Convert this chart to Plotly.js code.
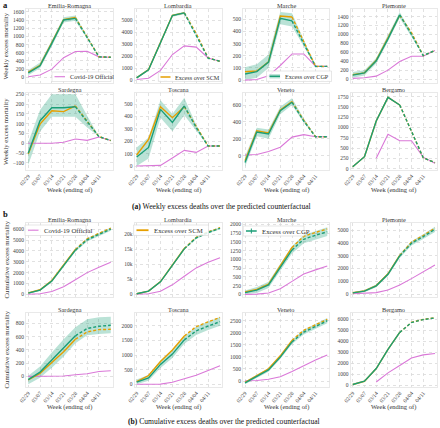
<!DOCTYPE html>
<html><head><meta charset="utf-8">
<script src="https://cdn.plot.ly/plotly-3.0.1.min.js"></script>
<style>html,body{margin:0;padding:0;background:#fff}#chart{width:440px;height:428px}</style>
</head><body><div id="chart"></div>
<script>
// ---------- DATA ----------
const weeks = ["02/29","03/07","03/14","03/21","03/28","04/04","04/11","04/18"];
const tickLabels = ["02/29","03/07","03/14","03/21","03/28","04/04","04/11"];

// Weekly excess mortality
const W_ER_OFF = [15, 55, 200, 480, 630, 635, 500, 490];
const W_ER_SCM = [130, 295, 850, 1410, 1460, 980, 500, 490];
const W_ER_CGP = [108, 280, 830, 1400, 1440, 960, 500, 490];
const W_ER_LO  = [50, 220, 760, 1340, 1380, 930, 500, 490];
const W_ER_HI  = [170, 360, 900, 1470, 1510, 1000, 500, 490];

const W_LO_OFF = [55, 150, 810, 2140, 2860, 2760, 1850, 1570];
const W_LO_SCM = [200, 880, 3150, 5420, 5630, 3900, 1850, 1570];
const W_LO_CGP = [190, 865, 3130, 5400, 5620, 3750, 1840, 1570];
const W_LO_LO  = [110, 780, 3040, 5310, 5520, 3680, 1840, 1570];
const W_LO_HI  = [270, 950, 3220, 5490, 5720, 3820, 1840, 1570];

const W_MA_OFF = [0, 5, 35, 120, 215, 215, 115, 113];
const W_MA_SCM = [68, 75, 150, 527, 519, 320, 113, 113];
const W_MA_CGP = [50, 70, 148, 508, 487, 300, 113, 113];
const W_MA_LO  = [0, 20, 100, 460, 440, 280, 113, 113];
const W_MA_HI  = [105, 130, 210, 560, 550, 330, 113, 113];

const W_PI_OFF = [15, 30, 65, 200, 395, 510, 510, 640];
const W_PI_SCM = [100, 140, 420, 920, 1430, 1040, 525, 640];
const W_PI_CGP = [88, 139, 409, 900, 1438, 1000, 525, 640];
const W_PI_LO  = [30, 80, 350, 840, 1370, 960, 525, 640];
const W_PI_HI  = [160, 200, 470, 970, 1500, 1040, 525, 640];

const W_SA_OFF = [0, 0, 0, 5, 22, 15, 32, 14];
const W_SA_SCM = [-55, 98, 166, 161, 190, 110, 34, 14];
const W_SA_CGP = [-51, 115, 181, 181, 186, 110, 34, 14];
const W_SA_LO  = [-110, 60, 135, 135, 135, 80, 34, 14];
const W_SA_HI  = [5, 170, 250, 250, 250, 140, 34, 14];

const W_TO_OFF = [0, 0, 5, 65, 126, 110, 161, 161];
const W_TO_SCM = [89, 215, 478, 390, 478, 320, 161, 161];
const W_TO_CGP = [73, 150, 457, 352, 484, 310, 161, 161];
const W_TO_LO  = [0, 60, 390, 280, 410, 290, 161, 161];
const W_TO_HI  = [150, 230, 530, 420, 550, 330, 161, 161];

const W_VE_OFF = [8, 15, 50, 100, 220, 250, 225, 225];
const W_VE_SCM = [-60, 295, 270, 540, 640, 420, 225, 225];
const W_VE_CGP = [-80, 280, 257, 533, 632, 410, 225, 225];
const W_VE_LO  = [-130, 230, 200, 490, 600, 390, 225, 225];
const W_VE_HI  = [-10, 330, 310, 580, 680, 440, 225, 225];

const W_BG_OFF = [null, null, 251, 835, 680, 680, 280, 130];
const W_BG_SCM = [45, 292, 1159, 1734, 1548, 920, 267, 146];
const W_BG_CGP = [49, 292, 1159, 1734, 1548, 900, 267, 146];

// Cumulative excess mortality
const C_ER_OFF = [0, 50, 250, 700, 1350, 2000, 2500, 2950];
const C_ER_SCM = [130, 420, 1270, 2680, 4140, 5120, 5620, 6110];
const C_ER_CGP = [108, 390, 1220, 2620, 4070, 5030, 5530, 6020];
const C_ER_LO  = [50, 310, 1120, 2500, 3930, 4880, 5380, 5870];
const C_ER_HI  = [170, 470, 1320, 2740, 4210, 5180, 5680, 6170];

const C_LO_OFF = [55, 200, 1000, 3150, 6000, 8800, 10650, 12200];
const C_LO_SCM = [200, 1080, 4230, 9650, 15280, 19000, 20800, 22200];
const C_LO_CGP = [190, 1055, 4150, 9550, 15170, 18800, 20600, 22000];
const C_LO_LO  = [90, 900, 3950, 9300, 14900, 18450, 20250, 21650];
const C_LO_HI  = [290, 1200, 4350, 9800, 15450, 19150, 20950, 22350];

const C_MA_OFF = [0, 5, 40, 160, 370, 580, 700, 810];
const C_MA_SCM = [68, 140, 290, 820, 1340, 1660, 1770, 1870];
const C_MA_CGP = [50, 120, 270, 780, 1270, 1575, 1690, 1790];
const C_MA_LO  = [0, 40, 180, 690, 1170, 1460, 1570, 1670];
const C_MA_HI  = [110, 210, 360, 880, 1380, 1700, 1810, 1920];

const C_PI_OFF = [15, 45, 110, 310, 700, 1200, 1720, 2265];
const C_PI_SCM = [100, 240, 660, 1580, 3010, 4050, 4570, 5150];
const C_PI_CGP = [88, 227, 636, 1536, 2974, 3960, 4480, 5050];
const C_PI_LO  = [30, 130, 520, 1400, 2820, 3790, 4290, 4850];
const C_PI_HI  = [150, 320, 750, 1670, 3130, 4130, 4670, 5250];

const C_SA_OFF = [0, 0, 0, 5, 25, 40, 72, 85];
const C_SA_SCM = [-55, 45, 210, 370, 560, 670, 705, 710];
const C_SA_CGP = [-51, 64, 245, 426, 612, 722, 756, 770];
const C_SA_LO  = [-120, -20, 130, 300, 500, 620, 640, 650];
const C_SA_HI  = [10, 150, 360, 560, 740, 860, 890, 900];

const C_TO_OFF = [0, 0, 5, 70, 195, 310, 470, 630];
const C_TO_SCM = [89, 300, 780, 1170, 1650, 1970, 2130, 2280];
const C_TO_CGP = [73, 220, 680, 1030, 1515, 1825, 1985, 2140];
const C_TO_LO  = [0, 120, 560, 900, 1380, 1680, 1850, 2000];
const C_TO_HI  = [160, 320, 820, 1180, 1650, 1960, 2140, 2300];

const C_VE_OFF = [8, 23, 73, 173, 393, 643, 868, 1080];
const C_VE_SCM = [-60, 235, 505, 1045, 1685, 2105, 2330, 2555];
const C_VE_CGP = [-80, 200, 457, 990, 1622, 2032, 2257, 2500];
const C_VE_LO  = [-140, 130, 380, 910, 1530, 1930, 2150, 2390];
const C_VE_HI  = [-20, 270, 530, 1070, 1710, 2130, 2370, 2610];

const C_BG_OFF = [null, null, 270, 1100, 1780, 2460, 2740, 2870];
const C_BG_SCM = [45, 337, 1496, 3230, 4778, 5700, 5965, 6110];
const C_BG_CGP = [49, 341, 1500, 3234, 4782, 5680, 5947, 6093];

const regionNames = ["Emilia-Romagna","Lombardia","Marche","Piemonte","Sardegna","Toscana","Veneto","Bergamo"];
const seriesNames = ["Covid-19 Official","Excess over SCM","Excess over CGP"];

// ---------- PANELS ----------
const panels = [
  {off:W_ER_OFF, scm:W_ER_SCM, cgp:W_ER_CGP, lo:W_ER_LO, hi:W_ER_HI, range:[-139,1669], dtick:200},
  {off:W_LO_OFF, scm:W_LO_SCM, cgp:W_LO_CGP, lo:W_LO_LO, hi:W_LO_HI, range:[-243,5950], dtick:1000},
  {off:W_MA_OFF, scm:W_MA_SCM, cgp:W_MA_CGP, lo:W_MA_LO, hi:W_MA_HI, range:[-24,585], dtick:100},
  {off:W_PI_OFF, scm:W_PI_SCM, cgp:W_PI_CGP, lo:W_PI_LO, hi:W_PI_HI, range:[-88,1570], dtick:200},
  {off:W_SA_OFF, scm:W_SA_SCM, cgp:W_SA_CGP, lo:W_SA_LO, hi:W_SA_HI, range:[-136,256], dtick:50},
  {off:W_TO_OFF, scm:W_TO_SCM, cgp:W_TO_CGP, lo:W_TO_LO, hi:W_TO_HI, range:[-32,589], dtick:100},
  {off:W_VE_OFF, scm:W_VE_SCM, cgp:W_VE_CGP, lo:W_VE_LO, hi:W_VE_HI, range:[-169,742], dtick:200},
  {off:W_BG_OFF, scm:W_BG_SCM, cgp:W_BG_CGP, lo:null, hi:null, range:[-32,1840], dtick:250},
  {off:C_ER_OFF, scm:C_ER_SCM, cgp:C_ER_CGP, lo:C_ER_LO, hi:C_ER_HI, range:[-250,6580], dtick:1000},
  {off:C_LO_OFF, scm:C_LO_SCM, cgp:C_LO_CGP, lo:C_LO_LO, hi:C_LO_HI, range:[-900,23770], dtick:5000},
  {off:C_MA_OFF, scm:C_MA_SCM, cgp:C_MA_CGP, lo:C_MA_LO, hi:C_MA_HI, range:[-76,2040], dtick:250},
  {off:C_PI_OFF, scm:C_PI_SCM, cgp:C_PI_CGP, lo:C_PI_LO, hi:C_PI_HI, range:[-234,5547], dtick:1000},
  {off:C_SA_OFF, scm:C_SA_SCM, cgp:C_SA_CGP, lo:C_SA_LO, hi:C_SA_HI, range:[-161,956], dtick:200},
  {off:C_TO_OFF, scm:C_TO_SCM, cgp:C_TO_CGP, lo:C_TO_LO, hi:C_TO_HI, range:[-92,2433], dtick:500},
  {off:C_VE_OFF, scm:C_VE_SCM, cgp:C_VE_CGP, lo:C_VE_LO, hi:C_VE_HI, range:[-249,2820], dtick:500},
  {off:C_BG_OFF, scm:C_BG_SCM, cgp:C_BG_CGP, lo:null, hi:null, range:[-182,6545], dtick:1000}
];

// ---------- LAYOUT GEOMETRY (pixels) ----------
const W = 440, H = 428;
const colPx = [[26,113],[134.4,222.3],[242.8,329.5],[350.5,437.2]];
const rowPx = [[9,83],[93,170],[223,297],[313,387]];
const px = x => x / W;
const py = y => 1 - y / H;

const FONT = "Liberation Serif, DejaVu Serif, serif";
const C_OFF = "#da78d8", C_SCM = "#e69f00", C_CGP = "#1b9e77", C_BAND = "rgba(27,158,119,0.30)";

const traces = [];
const layout = {
  width: W, height: H, margin: {l:0, r:0, t:0, b:0},
  paper_bgcolor: "white", plot_bgcolor: "white", showlegend: false,
  font: {family: FONT, size: 6, color: "#333"},
  annotations: [], shapes: []
};

panels.forEach((p, i) => {
  const k = i + 1;
  const xs = k === 1 ? "x" : "x" + k, ys = k === 1 ? "y" : "y" + k;
  const col = i % 4, row = Math.floor(i / 4);
  const bottom = (row === 1 || row === 3);
  const [x0, x1] = colPx[col], [yt, yb] = rowPx[row];
  layout[k === 1 ? "xaxis" : "xaxis" + k] = {
    domain: [px(x0), px(x1)], anchor: ys, type: "category", range: [-0.19, 7.19],
    tickvals: tickLabels, ticktext: tickLabels, showticklabels: bottom, tickangle: -50,
    tickfont: {size: 5.5, color: "#444", family: FONT}, ticks: "",
    showgrid: true, gridcolor: "#d9d9d9", griddash: "dot", gridwidth: 0.8,
    showline: true, mirror: true, linecolor: "#e4e4e4", linewidth: 0.8, zeroline: false
  };
  layout[k === 1 ? "yaxis" : "yaxis" + k] = {
    domain: [py(yb), py(yt)], anchor: xs, range: p.range, tick0: 0, dtick: p.dtick,
    tickfont: {size: 5.5, color: "#444", family: FONT}, ticks: "",
    showgrid: true, gridcolor: "#d9d9d9", griddash: "dot", gridwidth: 0.8,
    showline: true, mirror: true, linecolor: "#e4e4e4", linewidth: 0.8, zeroline: false
  };
  const base = {xaxis: xs, yaxis: ys, mode: "lines", hoverinfo: "skip", showlegend: false};
  if (p.lo) {
    traces.push(Object.assign({}, base, {x: weeks, y: p.lo, line: {width: 0, color: C_BAND}}));
    traces.push(Object.assign({}, base, {x: weeks, y: p.hi, line: {width: 0, color: C_BAND}, fill: "tonexty", fillcolor: C_BAND}));
  }
  traces.push(Object.assign({}, base, {x: weeks, y: p.off, name: seriesNames[0], line: {color: C_OFF, width: 1.1}}));
  [[p.scm, C_SCM, seriesNames[1]], [p.cgp, C_CGP, seriesNames[2]]].forEach(([arr, c, nm]) => {
    traces.push(Object.assign({}, base, {x: weeks.slice(0, 5), y: arr.slice(0, 5), name: nm, line: {color: c, width: 1.4}}));
    traces.push(Object.assign({}, base, {x: weeks.slice(4), y: arr.slice(4), name: nm, line: {color: c, width: 1.4, dash: "3px,2px"}}));
  });
  // subplot title
  layout.annotations.push({xref: "paper", yref: "paper", x: px((x0 + x1) / 2), y: py(yt - 3.8),
    text: regionNames[i % 8], showarrow: false, xanchor: "center", yanchor: "middle",
    font: {size: 6.3, color: "#333", family: FONT}});
  if (bottom) {
    layout.annotations.push({xref: "paper", yref: "paper", x: px((x0 + x1) / 2), y: py(row === 1 ? 189.5 : 407),
      text: "Week (ending of)", showarrow: false, xanchor: "center", yanchor: "middle",
      font: {size: 6.5, color: "#333", family: FONT}});
  }
  if (col === 0) {
    layout.annotations.push({xref: "paper", yref: "paper", x: px(5.5), y: py((yt + yb) / 2),
      text: row < 2 ? "Weekly excess mortality" : "Cumulative excess mortality", textangle: -90,
      showarrow: false, xanchor: "center", yanchor: "middle",
      font: {size: 6.8, color: "#333", family: FONT}});
  }
});

// ---------- LEGENDS (drawn as boxes inside panels) ----------
const legends = [
  {box:[52,72,111,81.5], sym:[54.5,65,76.7], color:C_OFF, w:1.1, text:seriesNames[0], tx:67.5, fs:6.2},
  {box:[158.3,72.5,221.5,81.5], sym:[160.5,170.5,77], color:C_SCM, w:1.5, text:seriesNames[1], tx:173, fs:6.2},
  {box:[266.5,71,331.5,81.5], sym:[269.5,280,76.3], color:C_CGP, w:1.5, band:true, text:seriesNames[2], tx:282.5, fs:6.2},
  {box:[25,225,86,235.5], sym:[28,38.5,230.2], color:C_OFF, w:1.1, text:seriesNames[0], tx:41.5, fs:6.8},
  {box:[133.5,225,208.5,235.5], sym:[136.5,148.5,230.2], color:C_SCM, w:1.8, text:seriesNames[1], tx:151.5, fs:6.8},
  {box:[243.3,226,304,236], sym:[246,256.7,231], color:C_CGP, w:1.5, tick:true, text:seriesNames[2], tx:260, fs:6.8}
];
legends.forEach(L => {
  const [bx0, by0, bx1, by1] = L.box;
  layout.shapes.push({type:"rect", xref:"paper", yref:"paper", x0:px(bx0), x1:px(bx1), y0:py(by1), y1:py(by0),
    fillcolor:"rgba(255,255,255,0.85)", line:{color:"#d6d6d6", width:0.6}, layer:"above"});
  const [sx0, sx1, sy] = L.sym;
  if (L.band) {
    layout.shapes.push({type:"rect", xref:"paper", yref:"paper", x0:px(sx0), x1:px(sx1), y0:py(sy + 2.2), y1:py(sy - 2.2),
      fillcolor:C_BAND, line:{width:0}, layer:"above"});
  }
  if (L.tick) {
    const mx = (sx0 + sx1) / 2;
    layout.shapes.push({type:"line", xref:"paper", yref:"paper", x0:px(mx), x1:px(mx), y0:py(sy + 2.5), y1:py(sy - 2.5),
      line:{color:C_CGP, width:1}, layer:"above"});
  }
  layout.shapes.push({type:"line", xref:"paper", yref:"paper", x0:px(sx0), x1:px(sx1), y0:py(sy), y1:py(sy),
    line:{color:L.color, width:L.w}, layer:"above"});
  layout.annotations.push({xref:"paper", yref:"paper", x:px(L.tx), y:py(sy), text:L.text, showarrow:false,
    xanchor:"left", yanchor:"middle", font:{size:L.fs, color:"#333", family:FONT}});
});

// ---------- PANEL LETTERS & CAPTIONS ----------
layout.annotations.push({xref:"paper", yref:"paper", x:px(1), y:py(5.5), text:"<b>a</b>", showarrow:false,
  xanchor:"left", yanchor:"middle", font:{size:8.5, color:"#111", family:FONT}});
layout.annotations.push({xref:"paper", yref:"paper", x:px(1), y:py(214.5), text:"<b>b</b>", showarrow:false,
  xanchor:"left", yanchor:"middle", font:{size:8.5, color:"#111", family:FONT}});
layout.annotations.push({xref:"paper", yref:"paper", x:px(221), y:py(206), showarrow:false,
  text:"<b>(a)</b> Weekly excess deaths over the predicted counterfactual",
  xanchor:"center", yanchor:"middle", font:{size:7.6, color:"#111", family:FONT}});
layout.annotations.push({xref:"paper", yref:"paper", x:px(224), y:py(421), showarrow:false,
  text:"<b>(b)</b> Cumulative excess deaths over the predicted counterfactual",
  xanchor:"center", yanchor:"middle", font:{size:7.6, color:"#111", family:FONT}});

Plotly.newPlot("chart", traces, layout, {staticPlot: true, displayModeBar: false});
</script>
</body></html>
